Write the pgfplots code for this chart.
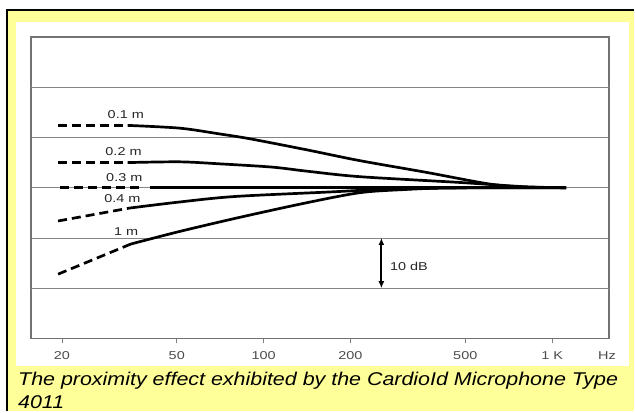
\documentclass[border=0pt]{standalone}
\usepackage{pgfplots}
\pgfplotsset{compat=1.18}
\usepackage{fontspec}
\setmainfont{Liberation Sans}
\usetikzlibrary{arrows.meta}
\definecolor{bgyellow}{RGB}{255,255,153}
\newcommand\wt[1]{\scalebox{1.27}[1]{\fontsize{11.4}{13}\selectfont #1}}
\begin{document}
\begin{tikzpicture}
\begin{scope}[x=1pt,y=1pt]
\fill[white] (0,0) rectangle (635,412);
\fill[bgyellow] (7,0) rectangle (635,401.7);
\draw[black, line width=2pt] (7,0) -- (7,401.7) -- (635,401.7);
\fill[white] (16,45) rectangle (630,390);
\end{scope}
\begin{axis}[
  at={(31pt,73pt)}, anchor=south west,
  scale only axis, width=579pt, height=302pt,
  xmode=log, xmin=15.62, xmax=1575, ymin=-30, ymax=30,
  xtick={20,50,100,200,500,1000},
  xticklabels={\wt{20},\wt{50},\wt{100},\wt{200},\wt{500},\wt{1 K}},
  xticklabel style={text=black!70, anchor=center, yshift=-12pt},
  /pgf/number format/assume math mode=true,
  ytick={-10,0,10}, yticklabels={},
  extra y ticks={-20,20}, extra y tick labels={},
  extra y tick style={grid style={black!18, line width=1pt}, ytick style={draw=none}},
  ymajorgrids, major grid style={black!48, line width=0.9pt},
  ytick style={draw=none},
  xtick style={black!50, line width=0.8pt},
  tick align=outside, major tick length=5pt, xtick pos=left,
  minor tick num=0, xminorticks=false,
  axis line style={black!55, line width=1.3pt},
]
% 0.1 m
\addplot[black, line width=2.7pt, dash pattern=on 9pt off 5pt] coordinates {(19.4,12.4)(33.8,12.4)};
\addplot[black, line width=2.7pt, smooth] coordinates {(33.8,12.4)(51.2,11.85)(70.4,10.7)(89.4,9.75)(140.8,7.55)(214.8,5.4)(366,3.06)(605,0.74)(800,0.15)(1118,0)};
% 0.2 m
\addplot[black, line width=2.7pt, dash pattern=on 9pt off 5pt] coordinates {(19.4,5.0)(33.8,5.0)};
\addplot[black, line width=2.7pt, smooth] coordinates {(33.8,5.0)(51.2,5.15)(70.4,4.75)(107,4.1)(140.8,3.3)(214.8,2.2)(477,1.05)(800,0.2)(1118,0)};
% 0.3 m
\addplot[black, line width=2.7pt, dash pattern=on 9pt off 5pt] coordinates {(19.7,0)(38.1,0)};
\addplot[black, line width=2.7pt] coordinates {(40.3,0)(1118,0)};
% 0.4 m
\addplot[black, line width=2.7pt, dash pattern=on 9pt off 5pt] coordinates {(19.4,-6.62)(34.4,-4.04)};
\addplot[black, line width=2.7pt, smooth] coordinates {(34.4,-4.04)(51.2,-2.84)(79.4,-1.75)(169,-0.85)(252,-0.36)(440,-0.06)(1118,0)};
% 1 m
\addplot[black, line width=2.7pt, dash pattern=on 9pt off 5pt] coordinates {(19.4,-17.2)(34.7,-11.2)};
\addplot[black, line width=2.7pt, smooth] coordinates {(34.7,-11.2)(51.2,-8.7)(82.6,-5.9)(140.8,-3.0)(215,-1.0)(300,-0.4)(440,-0.05)(1118,0)};
% labels
\node[text=black!85, inner sep=0] at (axis cs:33.3,14.65) {\wt{0.1 m}};
\node[text=black!85, inner sep=0] at (axis cs:32.7,7.1) {\wt{0.2 m}};
\node[text=black!85, inner sep=0] at (axis cs:32.9,1.93) {\wt{0.3 m}};
\node[text=black!85, inner sep=0] at (axis cs:32.4,-2.25) {\wt{0.4 m}};
\node[text=black!85, inner sep=0] at (axis cs:33.4,-8.8) {\wt{1 m}};
\draw[black, line width=2.2pt, {Latex[length=7pt,width=6pt]}-{Latex[length=7pt,width=6pt]}] (axis cs:256,-10) -- (axis cs:256,-20);
\node[text=black!85, anchor=west, inner sep=0] at (axis cs:273.8,-15.7) {\wt{10 dB}};
\end{axis}
\begin{scope}[x=1pt,y=1pt]
\node[text=black!70, inner sep=0] at (608,56) {\wt{Hz}};
\node[anchor=base west, inner sep=0] at (18,26) {\scalebox{1.16}[1]{\fontsize{18.5}{23}\selectfont\itshape The proximity effect exhibited by the CardioId Microphone Type}};
\node[anchor=base west, inner sep=0] at (18,2.5) {\scalebox{1.16}[1]{\fontsize{18.5}{23}\selectfont\itshape 4011}};
\end{scope}
\end{tikzpicture}
\end{document}
